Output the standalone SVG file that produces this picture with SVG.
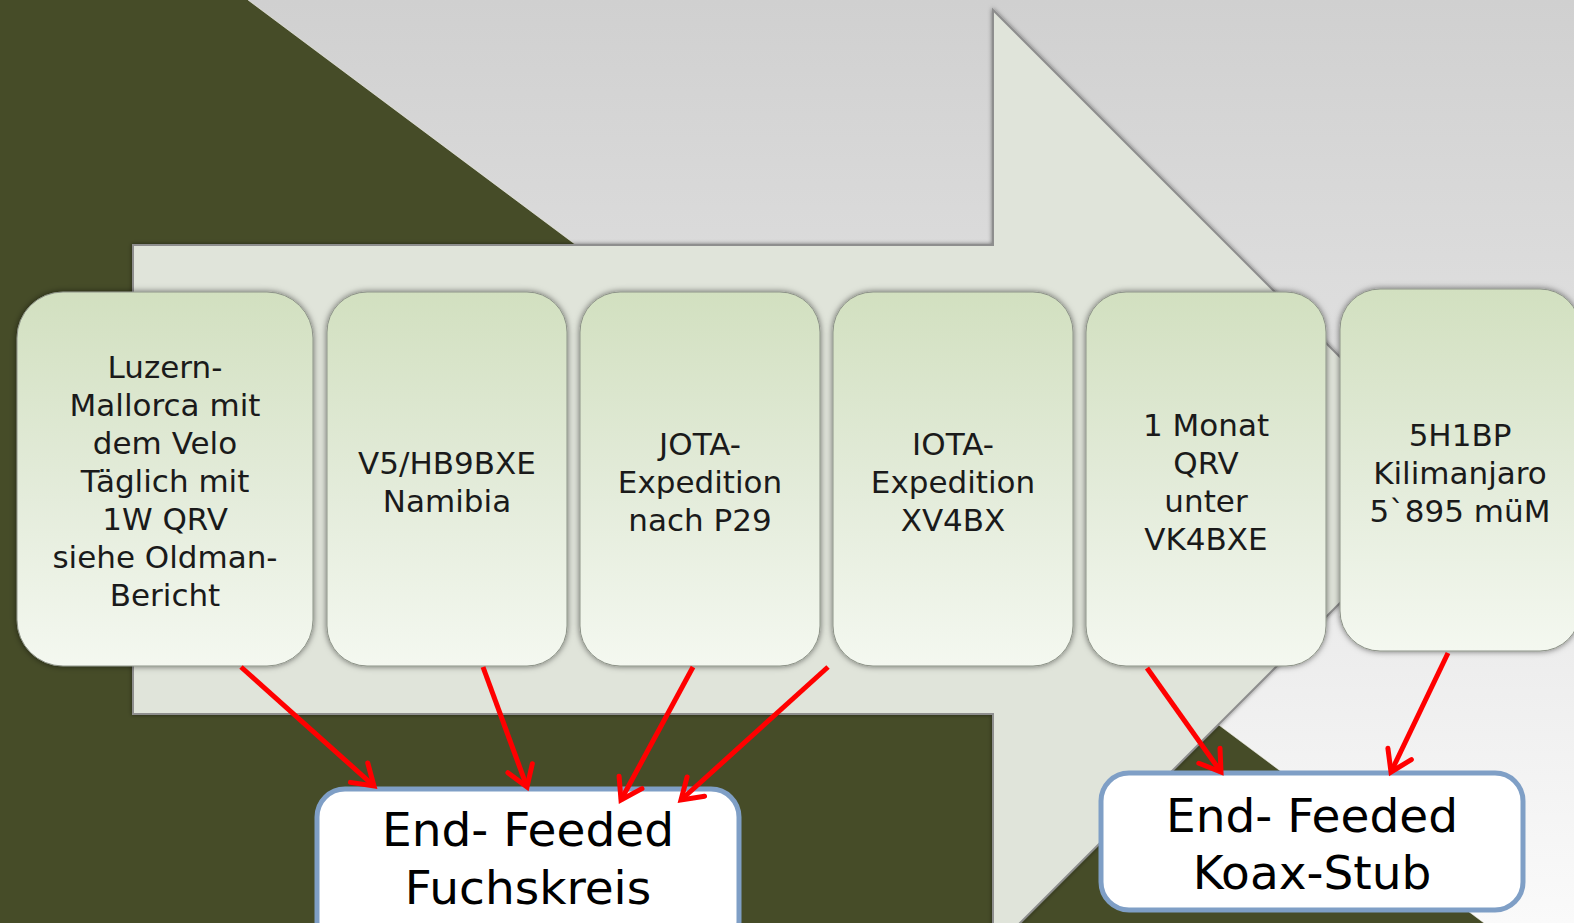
<svg xmlns="http://www.w3.org/2000/svg" width="1574" height="923" viewBox="0 0 1574 923">
<defs>
<linearGradient id="bg" x1="0" y1="0" x2="0" y2="1">
<stop offset="0" stop-color="#d0d0d0"/>
<stop offset="0.5" stop-color="#e4e4e4"/>
<stop offset="1" stop-color="#fafafa"/>
</linearGradient>
<linearGradient id="card" x1="0" y1="0" x2="0" y2="1">
<stop offset="0" stop-color="#d2e0c0"/>
<stop offset="0.55" stop-color="#e4ecdb"/>
<stop offset="1" stop-color="#f4f8f0"/>
</linearGradient>
<filter id="sh" x="-10%" y="-10%" width="120%" height="120%">
<feDropShadow dx="0" dy="0" stdDeviation="3" flood-color="#000" flood-opacity="0.55"/>
</filter>
<filter id="ash" x="-5%" y="-5%" width="110%" height="110%">
<feDropShadow dx="0" dy="0" stdDeviation="2" flood-color="#000" flood-opacity="0.5"/>
</filter>
<marker id="ah" viewBox="0 0 32 32" markerUnits="userSpaceOnUse" markerWidth="32" markerHeight="32" refX="27" refY="16" orient="auto">
<path d="M7,3 L27,16 L7,29" fill="none" stroke="#ff0000" stroke-width="5" stroke-linecap="round" stroke-linejoin="miter"/>
</marker>
<style>
.card{fill:url(#card);stroke:#8d9388;stroke-width:1;filter:url(#sh);}
.ct{font-family:"DejaVu Sans","Liberation Sans",sans-serif;font-size:31px;fill:#1a1a1a;text-anchor:middle;}
.box{fill:#fff;stroke:#7f9fc6;stroke-width:5;}
.bt{font-family:"DejaVu Sans","Liberation Sans",sans-serif;font-size:47px;fill:#000;text-anchor:middle;}
.conn{stroke:#ff0000;stroke-width:5;fill:none;marker-end:url(#ah);}
</style>
</defs>
<g id="background">
<rect x="0" y="0" width="1574" height="923" fill="#464c28"/>
<polygon points="248,0 1574,0 1574,923 1484,923" fill="url(#bg)"/>
<polyline points="248,0 1484,923" fill="none" stroke="#f4f4e8" stroke-width="1" opacity="0.6"/>
</g>
<g id="bigarrow">
<polygon points="133,245 993,245 993,10 1463,480 993,950 993,714 133,714" fill="#e0e4da" stroke="#8e8e8e" stroke-width="2" filter="url(#ash)"/>
</g>
<g id="card1"><rect class="card" x="17" y="292" width="296" height="374" rx="46"/>
<text class="ct"><tspan x="165" y="378">Luzern-</tspan><tspan x="165" y="416">Mallorca mit</tspan><tspan x="165" y="454">dem Velo</tspan><tspan x="165" y="492">Täglich mit</tspan><tspan x="165" y="530">1W QRV</tspan><tspan x="165" y="568">siehe Oldman-</tspan><tspan x="165" y="606">Bericht</tspan></text></g>
<g id="card2"><rect class="card" x="327" y="292" width="240" height="374" rx="40"/>
<text class="ct"><tspan x="447" y="474">V5/HB9BXE</tspan><tspan x="447" y="512">Namibia</tspan></text></g>
<g id="card3"><rect class="card" x="580" y="292" width="240" height="374" rx="40"/>
<text class="ct"><tspan x="700" y="455">JOTA-</tspan><tspan x="700" y="493">Expedition</tspan><tspan x="700" y="531">nach P29</tspan></text></g>
<g id="card4"><rect class="card" x="833" y="292" width="240" height="374" rx="40"/>
<text class="ct"><tspan x="953" y="455">IOTA-</tspan><tspan x="953" y="493">Expedition</tspan><tspan x="953" y="531">XV4BX</tspan></text></g>
<g id="card5"><rect class="card" x="1086" y="292" width="240" height="374" rx="40"/>
<text class="ct"><tspan x="1206" y="436">1 Monat</tspan><tspan x="1206" y="474">QRV</tspan><tspan x="1206" y="512">unter</tspan><tspan x="1206" y="550">VK4BXE</tspan></text></g>
<g id="card6"><rect class="card" x="1340" y="289" width="240" height="362" rx="40"/>
<text class="ct"><tspan x="1460" y="446">5H1BP</tspan><tspan x="1460" y="484">Kilimanjaro</tspan><tspan x="1460" y="522">5`895 müM</tspan></text></g>
<g id="box1"><rect class="box" x="317" y="789" width="422" height="160" rx="28"/>
<text class="bt"><tspan x="528" y="846">End- Feeded</tspan><tspan x="528" y="904">Fuchskreis</tspan></text></g>
<g id="box2"><rect class="box" x="1101" y="773" width="422" height="137" rx="28"/>
<text class="bt"><tspan x="1312" y="832">End- Feeded</tspan><tspan x="1312" y="889">Koax-Stub</tspan></text></g>
<g id="connectors">
<line class="conn" x1="241" y1="667" x2="374" y2="786"/>
<line class="conn" x1="483" y1="667" x2="527" y2="787"/>
<line class="conn" x1="693" y1="667" x2="621" y2="800"/>
<line class="conn" x1="828" y1="667" x2="681" y2="800"/>
<line class="conn" x1="1147" y1="668" x2="1221" y2="772"/>
<line class="conn" x1="1448" y1="653" x2="1391" y2="772"/>
</g>
</svg>
